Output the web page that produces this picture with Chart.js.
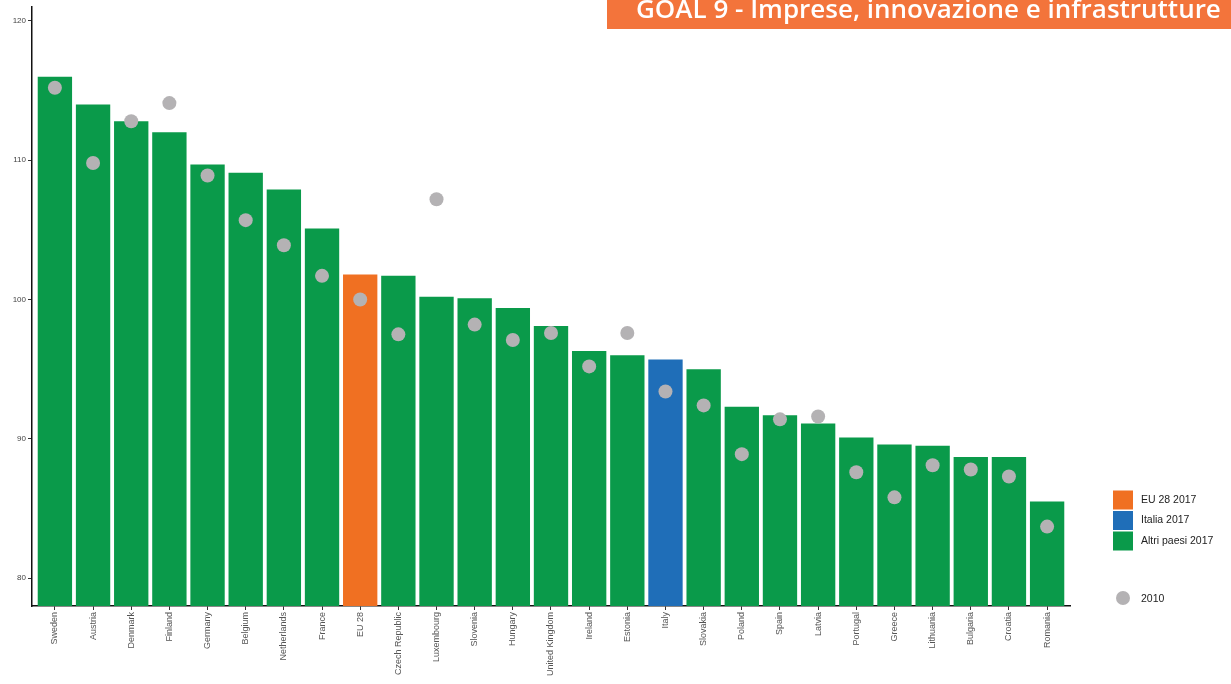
<!DOCTYPE html>
<html>
<head>
<meta charset="utf-8">
<script src="https://cdn.jsdelivr.net/npm/chart.js@4"></script>
<style>
  html, body { margin: 0; padding: 0; background: #fff; }
  #wrap { position: relative; width: 1231px; height: 684px; }
</style>
</head>
<body>
<div id="wrap"><canvas id="chart" width="1231" height="684"></canvas></div>
<script>
const countries = ['Sweden', 'Austria', 'Denmark', 'Finland', 'Germany', 'Belgium', 'Netherlands', 'France',
  'EU 28', 'Czech Republic', 'Luxembourg', 'Slovenia', 'Hungary', 'United Kingdom', 'Ireland', 'Estonia',
  'Italy', 'Slovakia', 'Poland', 'Spain', 'Latvia', 'Portugal', 'Greece', 'Lithuania', 'Bulgaria',
  'Croatia', 'Romania'];
const values2017 = [116.0, 114.0, 112.8, 112.0, 109.7, 109.1, 107.9, 105.1, 101.8, 101.7, 100.2, 100.1, 99.4,
  98.1, 96.3, 96.0, 95.7, 95.0, 92.3, 91.7, 91.1, 90.1, 89.6, 89.5, 88.7, 88.7, 85.5];
const values2010 = [115.2, 109.8, 112.8, 114.1, 108.9, 105.7, 103.9, 101.7, 100.0, 97.5, 107.2, 98.2, 97.1,
  97.6, 95.2, 97.6, 93.4, 92.4, 88.9, 91.4, 91.6, 87.6, 85.8, 88.1, 87.8, 87.3, 83.7];
const yTicks = [80, 90, 100, 110, 120];
const legendLabels = ['EU 28 2017', 'Italia 2017', 'Altri paesi 2017'];
const dotLabel = '2010';
const title = 'GOAL 9 - Imprese, innovazione e infrastrutture';

const GREEN = '#0a9a4a';
const ORANGE = '#f07022';
const BLUE = '#1f6eb8';
const GREY = '#b4b2b4';

// EU 28 orange, Italy blue, everything else green
const barColors = countries.map(c => c === 'EU 28' ? ORANGE : (c === 'Italy' ? BLUE : GREEN));

const overlay = {
  id: 'overlay',
  afterDraw(chart) {
    const ctx = chart.ctx;
    ctx.save();

    // header banner
    ctx.fillStyle = '#f3743b';
    ctx.fillRect(607, 0, 624, 29);
    ctx.fillStyle = '#fff';
    ctx.font = '600 26px "Open Sans", sans-serif';
    ctx.textBaseline = 'alphabetic';
    ctx.textAlign = 'left';
    ctx.fillText(title, 636, 18, 587);

    // legend
    const sw = [ORANGE, BLUE, GREEN];
    ctx.font = '10.5px "Liberation Sans", Arial, sans-serif';
    ctx.textBaseline = 'middle';
    legendLabels.forEach((lab, i) => {
      const cy = 500 + i * 20.5;
      ctx.fillStyle = sw[i];
      ctx.fillRect(1113, cy - 9.5, 20, 19);
      ctx.fillStyle = '#222';
      ctx.fillText(lab, 1141, cy);
    });
    ctx.fillStyle = GREY;
    ctx.beginPath();
    ctx.arc(1123, 598, 7, 0, Math.PI * 2);
    ctx.fill();
    ctx.fillStyle = '#222';
    ctx.fillText(dotLabel, 1141, 599);

    ctx.restore();
  }
};

new Chart(document.getElementById('chart'), {
  data: {
    datasets: [
      {
        type: 'scatter',
        label: dotLabel,
        data: values2010.map((v, i) => ({ x: i, y: v })),
        backgroundColor: GREY,
        borderWidth: 0,
        pointRadius: 7,
        order: 1
      },
      {
        type: 'bar',
        label: '2017',
        data: values2017.map((v, i) => ({ x: i, y: v })),
        backgroundColor: barColors,
        borderWidth: 0,
        categoryPercentage: 1,
        barPercentage: 0.9,
        order: 2
      }
    ]
  },
  options: {
    responsive: false,
    animation: false,
    devicePixelRatio: 1,
    layout: { padding: { top: 6, right: 161, left: 0, bottom: 0 } },
    plugins: {
      legend: { display: false },
      tooltip: { enabled: false }
    },
    scales: {
      x: {
        type: 'linear',
        offset: false,
        min: -0.6,
        max: 26.6,
        afterBuildTicks: s => { s.ticks = countries.map((_, i) => ({ value: i })); },
        afterFit: s => { s.height = 78; },
        border: { display: true, color: '#111', width: 1.5 },
        grid: { display: true, offset: false, drawOnChartArea: false, drawTicks: true, tickLength: 4, color: '#333' },
        ticks: {
          autoSkip: false,
          minRotation: 90,
          maxRotation: 90,
          padding: 2,
          color: '#555',
          font: { family: '"Liberation Sans", Arial, sans-serif', size: 9 },
          callback: v => countries[v]
        }
      },
      y: {
        min: 78,
        max: 121,
        afterBuildTicks: s => { s.ticks = yTicks.map(v => ({ value: v })); },
        afterFit: s => { s.width = 32; },
        border: { display: true, color: '#111', width: 1.5 },
        grid: { display: true, drawOnChartArea: false, drawTicks: true, tickLength: 4, color: '#333' },
        ticks: {
          padding: 2,
          color: '#444',
          font: { family: '"Liberation Sans", Arial, sans-serif', size: 8 }
        }
      }
    }
  },
  plugins: [overlay]
});
</script>
</body>
</html>
